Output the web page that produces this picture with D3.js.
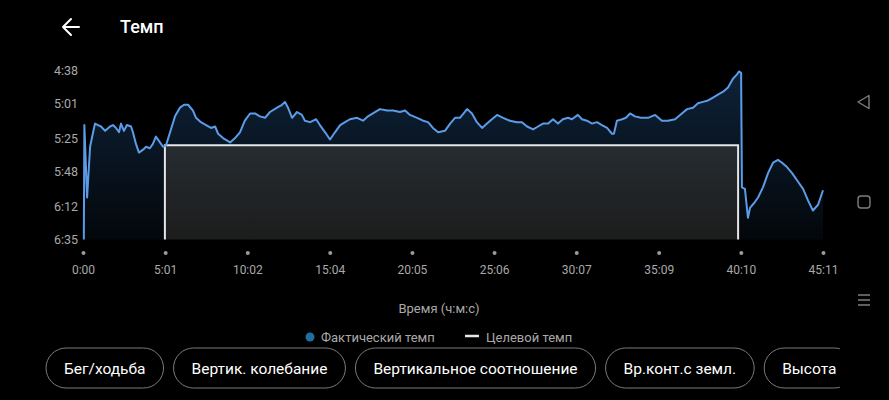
<!DOCTYPE html>
<html><head><meta charset="utf-8">
<script src="https://cdn.jsdelivr.net/npm/d3@7"></script>
<style>
html,body{margin:0;padding:0;background:#000;overflow:hidden}
svg{display:block}
text{font-family:Roboto,"Noto Sans",sans-serif}
</style></head><body>
<svg id="c" width="889" height="400"></svg>
<script>
// ---- data ----
const timeSec = [3,5,15,26,37,44,55,66,81,99,110,121,132,139,150,161,176,183,194,205,220,231,245,256,267,282,293,304,319,337,355,370,385,403,414,432,451,469,484,495,513,539,557,575,593,612,630,648,667,
685,711,729,740,751,766,784,802,813,832,854,868,887,905,923,942,960,978,1004,1026,1044,1062,1088,1114,1136,1161,1180,1198,1224,1246,1264,1282,1301,1326,1345,1363,
1381,1407,1425,1443,1462,1480,1498,1517,1539,1564,1590,1608,1627,1649,1667,1685,1704,1722,1740,1758,1777,1791,1813,1828,1846,1865,1883,1901,1920,1938,1945,1956,1975,1989,2004,2022,
2044,2070,2096,2121,2143,2169,2194,2213,2235,2253,2271,2290,2308,2326,2345,2363,2381,2396,2403,2411,2414,2425,2436,2444,2458,2473,2491,2510,2528,2546,2561,2579,2597,2619,2638,2656,2674,2693,2711];
const paceSec = [395,316,366,331,321,315,316,317,320,317,316,318,321,315,320,316,317,321,329,335,333,331,332,329,324,328,331,330,321,310,304,302,302,306,311,314,316,318,317,322,325,328,325,321,313,308,308,310,311,
307,304,302,300,304,311,307,309,313,314,312,316,321,326,321,316,314,312,311,313,310,308,305,306,306,307,306,309,311,313,314,318,321,320,315,311,
311,305,308,314,318,315,312,309,311,313,314,314,317,319,317,315,315,312,315,312,311,312,309,312,313,315,314,316,318,322,322,313,312,311,308,310,
311,311,309,313,313,312,308,305,304,301,300,299,297,295,293,290,284,281,279,280,359,360,380,373,370,366,359,349,342,340,342,345,349,355,360,368,375,371,361];
const targetTime = [300, 2400];
const targetPace = 330;
const yTickValues = [278, 301, 325, 348, 372, 395];
const yTickLabels = ["4:38", "5:01", "5:25", "5:48", "6:12", "6:35"];
const xTickValues = [0, 301, 602, 904, 1205, 1506, 1807, 2109, 2410, 2711];
const xTickLabels = ["0:00", "5:01", "10:02", "15:04", "20:05", "25:06", "30:07", "35:09", "40:10", "45:11"];
const titleText = "Темп";
const xAxisTitle = "Время (ч:м:с)";
const legendLabels = ["Фактический темп", "Целевой темп"];
const buttonLabels = ["Бег/ходьба", "Вертик. колебание", "Вертикальное соотношение", "Вр.конт.с земл.", "Высота"];

// ---- drawing ----
const svg = d3.select("#c");
const defs = svg.append("defs");
const gA = defs.append("linearGradient").attr("id","gArea").attr("x1",0).attr("y1",0).attr("x2",0).attr("y2",1);
gA.append("stop").attr("offset","0%").attr("stop-color","#0e2238");
gA.append("stop").attr("offset","100%").attr("stop-color","#03070b");
const gT = defs.append("linearGradient").attr("id","gTarget").attr("x1",0).attr("y1",0).attr("x2",0).attr("y2",1);
gT.append("stop").attr("offset","0%").attr("stop-color","#262c31");
gT.append("stop").attr("offset","100%").attr("stop-color","#1c1c1c");
defs.append("clipPath").attr("id","clipBtn").append("rect").attr("x",0).attr("y",0).attr("width",840).attr("height",400);

svg.append("rect").attr("width",889).attr("height",400).attr("fill","#000");

// header
svg.append("path").attr("d","M63,27H79M63,27L71,19M63,27L71,35")
  .attr("stroke","#fff").attr("stroke-width",2).attr("fill","none").attr("stroke-linecap","round");
svg.append("text").attr("x",120).attr("y",33).attr("fill","#fff").attr("font-size",18).attr("font-weight",500).text(titleText);

const x = d3.scaleLinear().domain([0, 2711]).range([83, 823]);
const y = d3.scaleLinear().domain([278, 395]).range([70, 239.5]);
const data = timeSec.map((t,i)=>({t, p: paceSec[i]}));

// area
svg.append("path").datum(data).attr("fill","url(#gArea)")
  .attr("d", d3.area().x(d=>x(d.t)).y0(y(395)).y1(d=>y(d.p)));

// target pace
const tg = svg.append("g");
tg.append("rect").attr("x",x(targetTime[0])).attr("y",y(targetPace))
  .attr("width",x(targetTime[1])-x(targetTime[0])).attr("height",y(395)-y(targetPace))
  .attr("fill","url(#gTarget)");
tg.append("path").datum([[targetTime[0],395],[targetTime[0],targetPace],[targetTime[1],targetPace],[targetTime[1],395]])
  .attr("d", d3.line().x(d=>x(d[0])).y(d=>y(d[1])))
  .attr("fill","none").attr("stroke","#e6e6e6").attr("stroke-width",2);

// line
svg.append("path").datum(data).attr("fill","none").attr("stroke","#5b9ce8").attr("stroke-width",2)
  .attr("stroke-linejoin","round")
  .attr("d", d3.line().x(d=>x(d.t)).y(d=>y(d.p)));

// y axis
const ya = svg.append("g").attr("transform","translate(83,0)")
  .call(d3.axisLeft(y).tickValues(yTickValues).tickFormat((d,i)=>yTickLabels[i]).tickSize(0).tickPadding(5));
ya.select(".domain").remove();
ya.selectAll("text").attr("fill","#a9a9a9").attr("font-size",12.5).attr("font-family","Roboto");

// x axis
const xa = svg.append("g").attr("transform","translate(0,253)")
  .call(d3.axisBottom(x).tickValues(xTickValues).tickFormat((d,i)=>xTickLabels[i]).tickSize(0).tickPadding(12));
xa.select(".domain").remove();
xa.selectAll("text").attr("fill","#a9a9a9").attr("font-size",12).attr("font-family","Roboto");
xa.selectAll(".tick").append("circle").attr("r",2).attr("fill","#9a9a9a");

// axis title
svg.append("text").attr("x",439).attr("y",313).attr("text-anchor","middle").attr("fill","#a9a9a9")
  .attr("font-size",13).text(xAxisTitle);

// legend
svg.append("circle").attr("cx",310).attr("cy",337).attr("r",4.5).attr("fill","#1f6e9e");
svg.append("text").attr("x",321).attr("y",342).attr("fill","#a9a9a9").attr("font-size",13).text(legendLabels[0]);
svg.append("line").attr("x1",465).attr("x2",479).attr("y1",336).attr("y2",336).attr("stroke","#e6e6e6").attr("stroke-width",2.5);
svg.append("text").attr("x",486).attr("y",342).attr("fill","#a9a9a9").attr("font-size",13).text(legendLabels[1]);

// buttons
const bg = svg.append("g").attr("clip-path","url(#clipBtn)");
let bx = 46;
buttonLabels.forEach(lbl=>{
  const g = bg.append("g");
  const r = g.append("rect");
  const t = g.append("text").attr("y",373.5).attr("fill","#fff").attr("font-size",15.5).attr("text-anchor","middle").text(lbl);
  const w = t.node().getComputedTextLength() + 36;
  r.attr("x",bx).attr("y",348).attr("width",w).attr("height",40).attr("rx",20)
   .attr("fill","#000").attr("stroke","#7a7a7a").attr("stroke-width",1);
  t.attr("x",bx+w/2);
  bx += w + 10;
});

// nav bar icons
svg.append("path").attr("d","M858,102L869,95.5V108.5Z").attr("fill","none").attr("stroke","#7d7d7d").attr("stroke-width",1.4).attr("stroke-linejoin","round");
svg.append("rect").attr("x",858).attr("y",196).attr("width",12).attr("height",12).attr("rx",3).attr("fill","none").attr("stroke","#7d7d7d").attr("stroke-width",1.4);
svg.append("path").attr("d","M858,295H870M858,300H870M858,305H870").attr("stroke","#7d7d7d").attr("stroke-width",1.4);
</script>
</body></html>
